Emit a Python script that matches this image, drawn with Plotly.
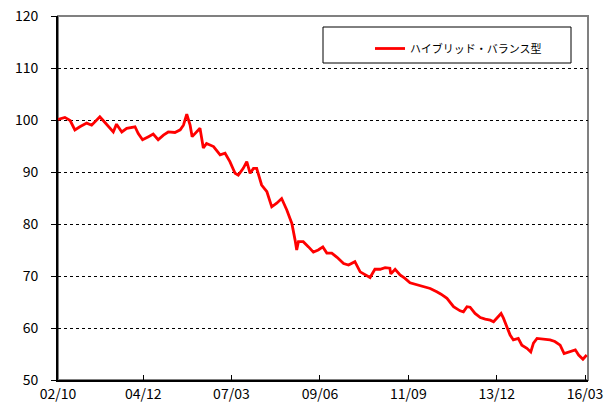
import plotly.graph_objects as go

series_name = "ハイブリッド・バランス型"

dates = [
    "2002-10-01", "2002-11-01", "2002-12-04", "2003-01-22", "2003-03-07", "2003-04-22",
    "2003-06-25", "2003-08-10", "2003-10-25", "2003-11-25", "2004-01-13", "2004-02-27",
    "2004-03-28", "2004-05-16", "2004-07-01", "2004-09-16", "2004-10-16", "2004-11-25",
    "2005-01-19", "2005-03-04", "2005-04-19", "2005-06-07", "2005-07-22", "2005-09-22",
    "2005-11-10", "2005-12-10", "2006-01-10", "2006-02-10", "2006-03-01", "2006-04-13",
    "2006-05-13", "2006-06-13", "2006-07-13", "2006-09-16", "2006-11-16", "2007-01-01",
    "2007-02-15", "2007-04-04", "2007-05-04", "2007-06-19", "2007-07-22", "2007-08-22",
    "2007-09-22", "2007-10-22", "2007-12-07", "2008-01-25", "2008-03-10", "2008-04-25",
    "2008-06-10", "2008-07-28", "2008-09-13", "2008-10-13", "2008-10-28", "2008-11-13",
    "2008-12-28", "2009-02-15", "2009-04-01", "2009-05-16", "2009-06-28", "2009-08-04",
    "2009-09-19", "2009-11-07", "2010-01-07", "2010-02-22", "2010-04-22", "2010-06-10",
    "2010-07-25", "2010-09-10", "2010-10-25", "2010-12-13", "2011-01-28", "2011-03-13",
    "2011-03-22", "2011-05-01", "2011-06-16", "2011-08-01", "2011-09-16", "2011-11-19",
    "2012-01-19", "2012-03-22", "2012-05-22", "2012-07-01", "2012-08-25", "2012-10-25",
    "2012-12-25", "2013-01-25", "2013-02-27", "2013-03-28", "2013-05-13", "2013-07-01",
    "2013-08-16", "2013-10-01", "2013-11-01", "2013-12-01", "2014-01-10", "2014-02-01",
    "2014-03-04", "2014-04-04", "2014-05-04", "2014-06-19", "2014-07-22", "2014-09-07",
    "2014-10-13", "2014-11-07", "2014-12-10", "2015-02-10", "2015-04-10", "2015-05-25",
    "2015-07-13", "2015-08-19", "2015-10-13", "2015-12-01", "2016-01-01", "2016-02-10",
    "2016-03-16",
]

values = [
    100.1, 100.3, 100.5, 99.9, 98.1, 98.7,
    99.4, 99.0, 100.6, 99.9, 98.7, 97.7,
    99.2, 97.7, 98.4, 98.7, 97.4, 96.2,
    96.8, 97.3, 96.2, 97.1, 97.7, 97.6,
    98.1, 99.0, 101.1, 99.0, 96.8, 97.7,
    98.4, 94.6, 95.5, 94.9, 93.3, 93.6,
    92.0, 89.75, 89.4, 90.7, 92.0, 89.75,
    90.7, 90.7, 87.5, 86.2, 83.3, 84.0,
    84.9, 82.7, 80.1, 76.9, 75.0, 76.6,
    76.6, 75.6, 74.6, 75.0, 75.6, 74.4,
    74.4, 73.6, 72.4, 72.1, 72.75, 70.8,
    70.2, 69.7, 71.3, 71.3, 71.6, 71.5,
    70.4, 71.3, 70.2, 69.55, 68.7, 68.3,
    67.9, 67.6, 66.95, 66.5, 65.7, 64.1,
    63.3, 63.1, 64.1, 64.0, 62.8, 62.0,
    61.7, 61.5, 61.2, 61.9, 62.8, 61.9,
    60.25, 58.65, 57.7, 58.0, 56.7, 56.1,
    55.4, 57.1, 58.0, 57.8, 57.7, 57.4,
    56.7, 55.1, 55.4, 55.8, 54.8, 54.0,
    54.8,
]

tick_dates = ["2002-10-01", "2004-12-01", "2007-03-01", "2009-06-01",
              "2011-09-01", "2013-12-01", "2016-03-01"]
tick_labels = ["02/10", "04/12", "07/03", "09/06", "11/09", "13/12", "16/03"]
y_ticks = [50, 60, 70, 80, 90, 100, 110, 120]

FONT = "Noto Sans CJK JP, Liberation Sans, sans-serif"

W, H = 608, 405
L, T, R, B = 58, 16, 20, 25
PW, PH = W - L - R, H - T - B  # plot area size in px

fig = go.Figure()
fig.add_trace(go.Scatter(
    x=dates, y=values, mode="lines", name=series_name,
    line=dict(color="#ff0000", width=2.8),
))

fig.update_layout(
    width=W, height=H,
    margin=dict(l=L, r=R, t=T, b=B, autoexpand=False),
    paper_bgcolor="white", plot_bgcolor="white",
    font=dict(family=FONT, color="black", size=13),
    showlegend=True,
    legend=dict(
        x=(370 - 58) / PW, y=1 - (34 - 16) / PH, xanchor="left", yanchor="top",
        bgcolor="rgba(0,0,0,0)", borderwidth=0,
        font=dict(family=FONT, size=11, color="black"),
    ),
    xaxis=dict(
        type="date", range=["2002-10-01", "2016-03-28"], automargin=False,
        tickvals=tick_dates, ticktext=tick_labels,
        ticks="inside", ticklen=5, tickcolor="black", tickwidth=1,
        showgrid=False, zeroline=False,
        showline=True, linecolor="black", linewidth=2,
        tickfont=dict(family=FONT, size=14, color="black"),
    ),
    yaxis=dict(
        range=[50, 120], tickvals=y_ticks, automargin=False,
        ticks="outside", ticklen=5, tickcolor="black", tickwidth=1,
        ticklabelstandoff=10,
        showgrid=True, gridcolor="black", gridwidth=1, griddash="dot",
        zeroline=False,
        showline=True, linecolor="black", linewidth=2,
        tickfont=dict(family=FONT, size=14, color="black"),
    ),
    shapes=[
        dict(type="rect", xref="paper", yref="paper", x0=0, x1=1, y0=0, y1=1,
             line=dict(color="#808080", width=2), layer="below"),
        dict(type="rect", xref="paper", yref="paper",
             x0=(323 - 58) / PW, x1=(571 - 58) / PW,
             y0=1 - (63 - 16) / PH, y1=1 - (27 - 16) / PH,
             line=dict(color="black", width=1), fillcolor="white", layer="below"),
    ],
)

fig.write_html(
    "out.html",
    config={"displayModeBar": False, "staticPlot": True},
    post_script="document.body.style.margin='0';document.body.style.overflow='hidden';",
)
